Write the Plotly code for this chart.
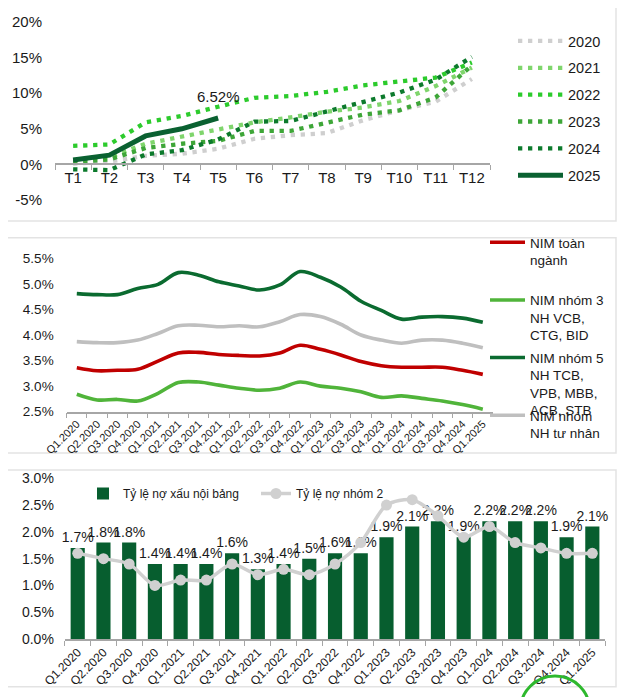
import plotly.graph_objects as go

W, H = 630, 697
OFF = 8  # page body margin offset
FONT = "Liberation Sans, Arial, sans-serif"

def fx(p):
    return (p - OFF) / W

def fy(p):
    return 1 - (p - OFF) / H

# ---------------- Panel 1 data: credit growth YTD by month ----------------
months = ["T1", "T2", "T3", "T4", "T5", "T6", "T7", "T8", "T9", "T10", "T11", "T12"]
y2020 = [0.1, 0.4, 1.2, 1.5, 2.2, 3.6, 4.1, 4.4, 6.2, 7.6, 8.8, 12.0]
y2021 = [0.6, 1.0, 2.9, 3.9, 4.75, 5.9, 6.6, 7.4, 8.0, 8.9, 11.0, 13.6]
y2022 = [2.6, 2.8, 5.9, 6.8, 8.1, 9.35, 9.6, 10.2, 11.1, 11.65, 12.2, 14.3]
y2023 = [0.3, 0.7, 2.3, 2.9, 3.3, 4.7, 4.7, 5.8, 7.0, 7.6, 9.4, 13.9]
y2024 = [-0.7, -0.8, 1.4, 2.0, 3.5, 6.0, 6.1, 7.4, 8.8, 10.1, 11.9, 15.1]
y2025 = [0.63, 1.3, 4.0, 5.0, 6.52]
year_names = ["2020", "2021", "2022", "2023", "2024"]
year_colors = ["#cfcfcf", "#7fd56c", "#2ccb2c", "#3ea638", "#0c7a2c"]
color_2025 = "#0a6131"

# ---------------- Panel 2 data: NIM ----------------
quarters = ["Q1.2020", "Q2.2020", "Q3.2020", "Q4.2020", "Q1.2021", "Q2.2021", "Q3.2021",
            "Q4.2021", "Q1.2022", "Q2.2022", "Q3.2022", "Q4.2022", "Q1.2023", "Q2.2023",
            "Q3.2023", "Q4.2023", "Q1.2024", "Q2.2024", "Q3.2024", "Q4.2024", "Q1.2025"]
nim_all = [3.36, 3.30, 3.31, 3.33, 3.49, 3.65, 3.66, 3.62, 3.60, 3.59, 3.65, 3.80, 3.72,
           3.61, 3.48, 3.40, 3.37, 3.37, 3.37, 3.31, 3.23]
nim_g3 = [2.84, 2.73, 2.74, 2.71, 2.86, 3.07, 3.08, 3.02, 2.96, 2.92, 2.96, 3.08, 3.00,
          2.96, 2.89, 2.78, 2.81, 2.76, 2.71, 2.64, 2.55]
nim_g5 = [4.81, 4.79, 4.79, 4.91, 4.99, 5.22, 5.17, 5.04, 4.96, 4.88, 4.98, 5.24, 5.13,
          4.94, 4.66, 4.48, 4.31, 4.35, 4.36, 4.33, 4.25]
nim_pvt = [3.87, 3.85, 3.85, 3.90, 4.03, 4.18, 4.19, 4.16, 4.18, 4.16, 4.26, 4.40, 4.36,
           4.21, 4.00, 3.90, 3.84, 3.90, 3.90, 3.84, 3.75]
nim_names = ["NIM toàn<br>ngành", "NIM nhóm 3<br>NH VCB,<br>CTG, BID",
             "NIM nhóm 5<br>NH TCB,<br>VPB, MBB,<br>ACB, STB", "NIM nhóm<br>NH tư nhân"]
nim_colors = ["#c00000", "#50b43a", "#0b6b30", "#bfbfbf"]

# ---------------- Panel 3 data: NPL ----------------
npl = [1.7, 1.8, 1.8, 1.4, 1.4, 1.4, 1.6, 1.3, 1.4, 1.5, 1.6, 1.6, 1.9, 2.1, 2.2, 1.9,
       2.2, 2.2, 2.2, 1.9, 2.1]
group2 = [1.6, 1.5, 1.4, 1.0, 1.1, 1.1, 1.4, 1.2, 1.3, 1.2, 1.4, 1.8, 2.5, 2.6, 2.3, 1.9,
          2.1, 1.8, 1.7, 1.6, 1.6]

fig = go.Figure()

# Panel 1 traces
for name, vals, col in zip(year_names, [y2020, y2021, y2022, y2023, y2024], year_colors):
    fig.add_trace(go.Scatter(
        x=months, y=vals, name=name, mode="lines",
        line=dict(color=col, width=4.3, dash="4.3px,5.7px"),
        xaxis="x", yaxis="y", legend="legend", legendgroup=name))
fig.add_trace(go.Scatter(
    x=months[:len(y2025)], y=y2025, name="2025", mode="lines",
    line=dict(color=color_2025, width=5),
    xaxis="x", yaxis="y", legend="legend", legendgroup="2025"))

# Panel 2 traces
nim_series = [nim_all, nim_g3, nim_g5, nim_pvt]
legend_ids = ["legend2", "legend3", "legend4", "legend5"]
for name, vals, col, lg in zip(nim_names, nim_series, nim_colors, legend_ids):
    fig.add_trace(go.Scatter(
        x=quarters, y=vals, name=name, mode="lines",
        line=dict(color=col, width=3.6, shape="spline", smoothing=1.0),
        xaxis="x2", yaxis="y2", legend=lg))

# Panel 3 traces
fig.add_trace(go.Bar(
    x=quarters, y=npl, name="Tỷ lệ nợ xấu nội bảng",
    marker=dict(color="#075e2f"),
    text=[f"{v:.1f}%" for v in npl], textposition="outside", constraintext="none",
    textfont=dict(size=14, color="#1a1a1a", family=FONT), cliponaxis=False,
    xaxis="x3", yaxis="y3", legend="legend6"))
fig.add_trace(go.Scatter(
    x=quarters, y=group2, name="Tỷ lệ nợ nhóm 2", mode="lines+markers",
    line=dict(color="#d0d0d0", width=3.5, shape="spline", smoothing=0.8),
    marker=dict(color="#d0d0d0", size=11),
    xaxis="x3", yaxis="y3", legend="legend6"))

# annotation for 2025 last value
fig.add_annotation(x=months[len(y2025) - 1], y=y2025[-1], xref="x", yref="y",
                   text=f"{y2025[-1]:.2f}%", showarrow=False, yshift=21,
                   font=dict(size=15, color="#1a1a1a", family=FONT))

axis_line = "#a6a6a6"
tickfont = dict(family=FONT, color="#1a1a1a")

# Panel 1 axes
p1_dom = [fy(200), fy(22)]
p1_range = [-5, 20]
zero_pos = p1_dom[0] + (p1_dom[1] - p1_dom[0]) * (0 - p1_range[0]) / (p1_range[1] - p1_range[0])

common_x = dict(type="category", showline=True, linecolor=axis_line, linewidth=1.5,
                ticks="outside", tickson="boundaries", ticklen=5, tickcolor=axis_line,
                showgrid=False, zeroline=False, automargin=False)
common_y = dict(showgrid=False, zeroline=False, showline=False, automargin=False, ticks="")

fig.update_layout(
    template="none",
    width=W, height=H,
    margin=dict(l=0, r=0, t=0, b=0, pad=0),
    paper_bgcolor="white", plot_bgcolor="white",
    font=dict(family=FONT, color="#1a1a1a"),
    bargap=0.45,
    xaxis=dict(domain=[fx(55), fx(490)], anchor="free", position=zero_pos,
               range=[-0.5, len(months) - 0.5],
               tickfont=dict(size=15, **tickfont), **common_x),
    yaxis=dict(domain=p1_dom, range=p1_range, tickvals=[-5, 0, 5, 10, 15, 20],
               ticktext=["-5%", "0%", "5%", "10%", "15%", "20%"], ticklabelstandoff=12,
               tickfont=dict(size=15, **tickfont), **common_y),
    xaxis2=dict(domain=[fx(66.65), fx(492.95)], anchor="y2", tickangle=-45,
                range=[-0.5, len(quarters) - 0.5],
                tickfont=dict(size=11, **tickfont), **common_x),
    yaxis2=dict(domain=[fy(411.7), fy(258.3)], range=[2.5, 5.5], anchor="x2",
                tickvals=[2.5, 3.0, 3.5, 4.0, 4.5, 5.0, 5.5],
                ticktext=["2.5%", "3.0%", "3.5%", "4.0%", "4.5%", "5.0%", "5.5%"],
                ticklabelstandoff=12, tickfont=dict(size=13.5, **tickfont), **common_y),
    xaxis3=dict(domain=[fx(64.85), fx(605.2)], anchor="y3", tickangle=-45,
                range=[-0.5, len(quarters) - 0.5],
                tickfont=dict(size=12, **tickfont), **common_x),
    yaxis3=dict(domain=[fy(639), fy(478.3)], range=[0, 3.0], anchor="x3",
                tickvals=[0, 0.5, 1.0, 1.5, 2.0, 2.5, 3.0],
                ticktext=["0.0%", "0.5%", "1.0%", "1.5%", "2.0%", "2.5%", "3.0%"],
                ticklabelstandoff=10, tickfont=dict(size=14, **tickfont), **common_y),
    legend=dict(x=fx(513), y=fy(25), xanchor="left", yanchor="top",
                bgcolor="rgba(0,0,0,0)", itemwidth=45, tracegroupgap=5,
                font=dict(size=14.5, family=FONT, color="#1a1a1a")),
)

leg2_y = [243, 300.7, 358.3, 416]
for lg, yy in zip(legend_ids, leg2_y):
    fig.update_layout({lg: dict(x=fx(485), y=fy(yy - 16), xanchor="left", yanchor="top",
                                bgcolor="rgba(0,0,0,0)", itemwidth=35, valign="top",
                                font=dict(size=13.5, family=FONT, color="#1a1a1a"))})

fig.update_layout(legend6=dict(x=fx(83), y=fy(479), xanchor="left", yanchor="top",
                               orientation="h", bgcolor="rgba(0,0,0,0)",
                               entrywidth=128, entrywidthmode="pixels",
                               font=dict(size=12, family=FONT, color="#1a1a1a")))

# panel frames
frames = [(-3, 5, 616, 221), (-3, 237.7, 616, 453), (-3, 470, 616, 686.7)]
for x0, y0, x1, y1 in frames:
    fig.add_shape(type="rect", xref="paper", yref="paper",
                  x0=fx(x0), x1=fx(x1), y0=fy(y1), y1=fy(y0),
                  line=dict(color="#e3e3e3", width=1.5), layer="below")

# green circle highlight at the bottom right
fig.add_shape(type="circle", xref="paper", yref="paper",
              x0=fx(520), x1=fx(590), y0=fy(746), y1=fy(676),
              line=dict(color="#2db82d", width=3))

fig.write_html("out.html")
